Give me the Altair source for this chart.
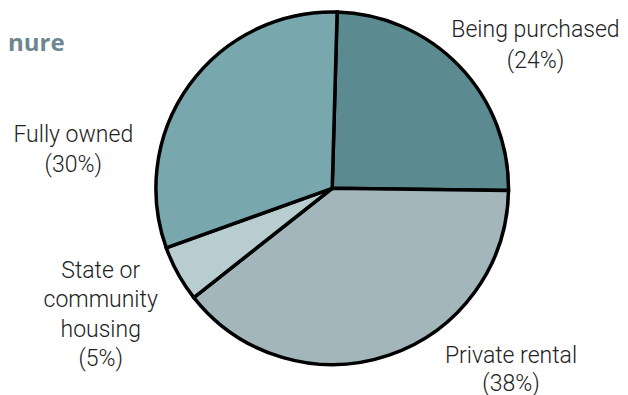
import math
import altair as alt
import pandas as pd

# ---- data ----
categories = ["Being purchased", "Private rental", "State or community housing", "Fully owned"]
label_text = ["Being purchased", "Private rental", "State or\ncommunity\nhousing", "Fully owned"]
values = [24, 38, 5, 30]
slice_colors = ["#5C8A91", "#A3B6BC", "#B8CDD0", "#78A8AE"]
title_text = "nure"

df = pd.DataFrame({
    "category": categories,
    "value": values,
    "order": list(range(len(categories))),
    "label": [f"{t}\n({v}%)" for t, v in zip(label_text, values)],
})

W, H = 612, 387
CX, CY = 324.2, 180.3
R = 176.3
START = 0.028
FONT = "Roboto"

pie = alt.Chart(df).mark_arc(radius=R, stroke="black", strokeWidth=3.5).encode(
    theta=alt.Theta("value:Q", stack=True,
                    scale=alt.Scale(range=[START, START + 2 * math.pi])),
    color=alt.Color("category:N",
                    scale=alt.Scale(domain=categories, range=slice_colors),
                    legend=None),
    order=alt.Order("order:Q"),
    x=alt.value(CX),
    y=alt.value(CY),
)

label_pos = {
    "Being purchased": (527.5, 29, 31),
    "Private rental": (503, 354.5, 28),
    "State or community housing": (92.7, 269.5, 29.5),
    "Fully owned": (65.3, 134, 30),
}

labels = []
for cat, (lx, ly, lh) in label_pos.items():
    labels.append(
        alt.Chart(df).transform_filter(alt.datum.category == cat).mark_text(
            font=FONT, fontSize=23, fontWeight=300, color="#222222",
            align="center", baseline="alphabetic", lineBreak="\n", lineHeight=lh,
        ).encode(text="label:N", x=alt.value(lx), y=alt.value(ly))
    )

title = alt.Chart(pd.DataFrame({"t": [title_text]})).mark_text(
    font="Open Sans", fontSize=24, fontWeight="bold", color="#6B8792",
    align="left", baseline="alphabetic",
).encode(text="t:N", x=alt.value(0), y=alt.value(43))

chart = alt.layer(pie, *labels, title).properties(
    width=W, height=H,
    autosize=alt.AutoSizeParams(type="none"),
    padding=0,
).configure_view(stroke=None)

chart.save("out.html", embed_options={"renderer": "svg", "actions": False})
